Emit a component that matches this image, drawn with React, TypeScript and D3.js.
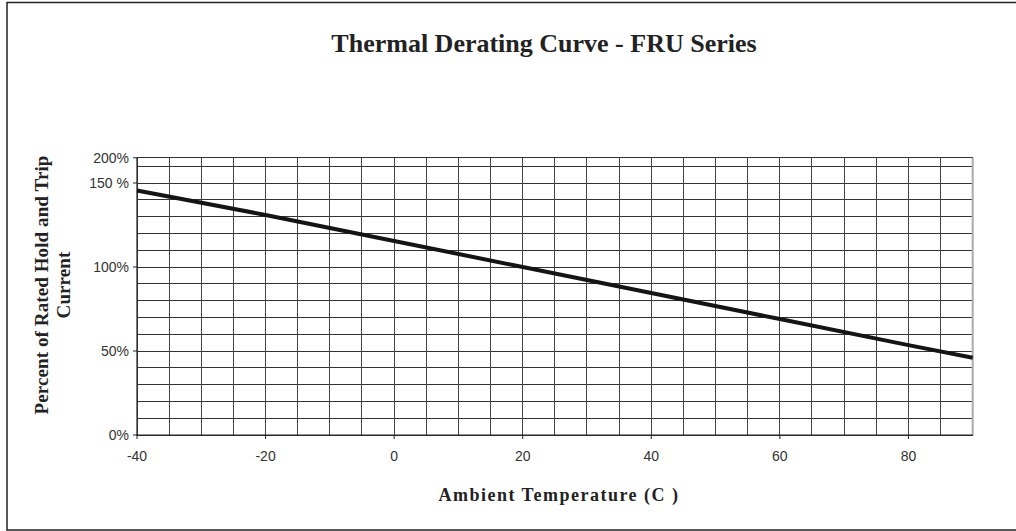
import React from 'react';
import * as d3 from 'd3';

// curve readings (ambient temp in C, percent of rated current)
const temps = [-40, -20, 0, 20, 40, 60, 80, 90];
const percents = [145.5, 131, 115.5, 100, 84.5, 69, 53.5, 46];

const xTicks = [-40, -20, 0, 20, 40, 60, 80];
const yTickValues = [0, 50, 100, 150, 165];
const yTickLabels = ['0%', '50%', '100%', '150 %', '200%'];

const width = 1016;
const height = 531;
const yMax = 165;
const plot = { left: 137, right: 972.7, top: 157.8, bottom: 435 };

const serif = '"Liberation Serif", "Times New Roman", serif';
const sans = '"Liberation Sans", Arial, sans-serif';

export default function App() {
  const x = d3.scaleLinear().domain([-40, 90]).range([plot.left, plot.right]);
  const y = d3.scaleLinear().domain([0, yMax]).range([plot.bottom, plot.top]);

  const vGrid = d3.range(-40, 91, 5);
  const hGrid = d3.range(0, yMax + 1, 10).concat([yMax]);

  const line = d3.line<number>()
    .x((d, i) => x(temps[i]))
    .y(d => y(d));

  return (
    <div style={{ position: 'absolute', left: 0, top: 0 }}>
      <svg width={width} height={height} viewBox={`0 0 ${width} ${height}`}>
        <rect x={0} y={0} width={width} height={height} fill='#fff' />
        {/* outer frame, cut off on the right */}
        <path d={`M1020,2.5 H7 V530 H1020`} fill='none' stroke='#222' strokeWidth={1.5} />

        <text x={544} y={52} textAnchor='middle' fontFamily={serif} fontWeight='bold'
          fontSize={26} fill='#222'>Thermal Derating Curve - FRU Series</text>

        <g>
          {hGrid.map(v => (
            <line key={'h' + v} x1={plot.left} x2={plot.right} y1={y(v)} y2={y(v)}
              stroke='#333' strokeWidth={1} shapeRendering='crispEdges' />
          ))}
          {vGrid.map(v => (
            <line key={'v' + v} x1={x(v)} x2={x(v)} y1={plot.top} y2={plot.bottom}
              stroke='#444' strokeWidth={1} shapeRendering='crispEdges' />
          ))}
          <line x1={plot.right} x2={plot.right} y1={plot.top} y2={plot.bottom}
            stroke='#aaa' strokeWidth={2} />
          <line x1={plot.left} x2={plot.left} y1={plot.top} y2={plot.bottom + 1}
            stroke='#222' strokeWidth={1.2} />
          <line x1={plot.left} x2={plot.right} y1={plot.bottom} y2={plot.bottom}
            stroke='#222' strokeWidth={1.2} />
        </g>

        {yTickValues.map((v, i) => (
          <g key={'yt' + v}>
            <line x1={plot.left - 4} x2={plot.left} y1={y(v)} y2={y(v)} stroke='#222' />
            <text x={plot.left - 8} y={y(v)} dy='0.35em' textAnchor='end'
              fontFamily={sans} fontSize={14} fill='#333'>{yTickLabels[i]}</text>
          </g>
        ))}

        {xTicks.map(v => (
          <g key={'xt' + v}>
            <line x1={x(v)} x2={x(v)} y1={plot.bottom} y2={plot.bottom + 4} stroke='#222' />
            <text x={x(v)} y={456} dy='0.35em' textAnchor='middle'
              fontFamily={sans} fontSize={14} fill='#333'>{v}</text>
          </g>
        ))}

        <path d={line(percents) || ''} fill='none' stroke='#141414' strokeWidth={4} />

        <text x={559} y={501} textAnchor='middle' fontFamily={serif} fontWeight='bold'
          fontSize={18} letterSpacing={1.5} fill='#222'>Ambient Temperature (C )</text>

        <g transform={`translate(48,285) rotate(-90)`}>
          <text x={0} y={0} textAnchor='middle' fontFamily={serif} fontWeight='bold'
            fontSize={19} letterSpacing={0.1} fill='#222'>Percent of Rated Hold and Trip</text>
          <text x={0} y={22} textAnchor='middle' fontFamily={serif} fontWeight='bold'
            fontSize={19} letterSpacing={0.1} fill='#222'>Current</text>
        </g>
      </svg>
    </div>
  );
}
